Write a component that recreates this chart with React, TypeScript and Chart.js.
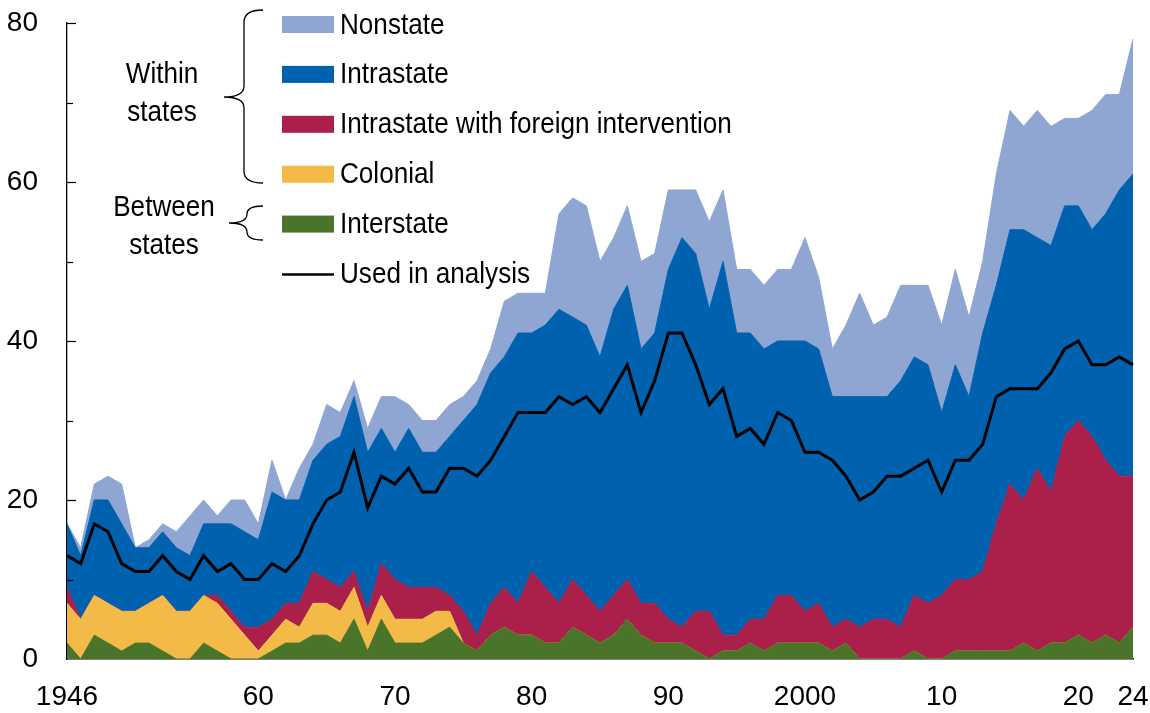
import React, { useEffect, useRef } from 'react';
import { Chart, registerables } from 'chart.js';

Chart.register(...registerables);

// ---------------- DATA ----------------
const years = [
  1946, 1947, 1948, 1949, 1950, 1951, 1952, 1953, 1954, 1955,
  1956, 1957, 1958, 1959, 1960, 1961, 1962, 1963, 1964, 1965,
  1966, 1967, 1968, 1969, 1970, 1971, 1972, 1973, 1974, 1975,
  1976, 1977, 1978, 1979, 1980, 1981, 1982, 1983, 1984, 1985,
  1986, 1987, 1988, 1989, 1990, 1991, 1992, 1993, 1994, 1995,
  1996, 1997, 1998, 1999, 2000, 2001, 2002, 2003, 2004, 2005,
  2006, 2007, 2008, 2009, 2010, 2011, 2012, 2013, 2014, 2015,
  2016, 2017, 2018, 2019, 2020, 2021, 2022, 2023, 2024,
];

const interstate = [
  2, 0, 3, 2, 1, 2, 2, 1, 0, 0,
  2, 1, 0, 0, 0, 1, 2, 2, 3, 3,
  2, 5, 1, 5, 2, 2, 2, 3, 4, 2,
  1, 3, 4, 3, 3, 2, 2, 4, 3, 2,
  3, 5, 3, 2, 2, 2, 1, 0, 1, 1,
  2, 1, 2, 2, 2, 2, 1, 2, 0, 0,
  0, 0, 1, 0, 0, 1, 1, 1, 1, 1,
  2, 1, 2, 2, 3, 2, 3, 2, 4,
];

const colonial = [
  5, 5, 5, 5, 5, 4, 5, 7, 6, 6,
  6, 6, 5, 3, 1, 2, 3, 2, 4, 4,
  4, 4, 3, 3, 3, 3, 3, 3, 2, 0,
  0, 0, 0, 0, 0, 0, 0, 0, 0, 0,
  0, 0, 0, 0, 0, 0, 0, 0, 0, 0,
  0, 0, 0, 0, 0, 0, 0, 0, 0, 0,
  0, 0, 0, 0, 0, 0, 0, 0, 0, 0,
  0, 0, 0, 0, 0, 0, 0, 0, 0,
];

const foreignIntervention = [
  2, 0, 0, 0, 0, 0, 0, 0, 0, 0,
  0, 1, 1, 1, 3, 2, 2, 3, 4, 3,
  3, 2, 2, 4, 5, 4, 4, 3, 2, 4,
  2, 4, 5, 4, 8, 7, 5, 6, 5, 4,
  5, 5, 4, 5, 3, 2, 5, 6, 2, 2,
  3, 4, 6, 6, 4, 5, 3, 3, 4, 5,
  5, 4, 7, 7, 8, 9, 9, 10, 16, 21,
  18, 23, 19, 26, 27, 26, 22, 21, 19,
];

const intrastate = [
  8, 8, 12, 13, 11, 8, 7, 8, 8, 7,
  9, 9, 11, 12, 11, 16, 13, 13, 14, 17,
  19, 22, 20, 17, 16, 20, 17, 17, 20, 24,
  29, 29, 29, 34, 30, 33, 37, 33, 34, 32,
  36, 37, 32, 34, 44, 49, 45, 38, 47, 38,
  36, 34, 32, 32, 34, 32, 29, 28, 29, 28,
  28, 31, 30, 30, 23, 27, 23, 30, 30, 32,
  34, 29, 31, 29, 27, 26, 31, 36, 38,
];

const nonstate = [
  0, 1, 2, 3, 5, 0, 1, 1, 2, 5,
  3, 1, 3, 4, 2, 4, 0, 4, 2, 5,
  3, 2, 3, 4, 7, 3, 4, 4, 4, 3,
  3, 3, 7, 5, 5, 4, 12, 15, 15, 12,
  9, 10, 11, 10, 10, 6, 8, 11, 9, 8,
  8, 8, 9, 9, 13, 9, 6, 9, 13, 9,
  10, 12, 9, 10, 11, 12, 10, 9, 14, 15,
  13, 16, 15, 11, 11, 15, 15, 12, 17,
];

const usedInAnalysis = [
  13, 12, 17, 16, 12, 11, 11, 13, 11, 10,
  13, 11, 12, 10, 10, 12, 11, 13, 17, 20,
  21, 26, 19, 23, 22, 24, 21, 21, 24, 24,
  23, 25, 28, 31, 31, 31, 33, 32, 33, 31,
  34, 37, 31, 35, 41, 41, 37, 32, 34, 28,
  29, 27, 31, 30, 26, 26, 25, 23, 20, 21,
  23, 23, 24, 25, 21, 25, 25, 27, 33, 34,
  34, 34, 36, 39, 40, 37, 37, 38, 37,
];

const xTickYears = [1946, 1960, 1970, 1980, 1990, 2000, 2010, 2020, 2024];
const xTickLabels = ['1946', '60', '70', '80', '90', '2000', '10', '20', '24'];
const yLabelledTicks = [0, 20, 40, 60, 80];

const legendLabels = [
  'Nonstate',
  'Intrastate',
  'Intrastate with foreign intervention',
  'Colonial',
  'Interstate',
  'Used in analysis',
];
const groupWithin = ['Within', 'states'];
const groupBetween = ['Between', 'states'];

// ---------------- STYLE ----------------
const FONT = "'Liberation Sans', Arial, sans-serif";
const NARROW = 0.87; // horizontal squeeze to mimic a narrow face
const C_NONSTATE = '#8FA6D3';
const C_INTRA = '#0061AF';
const C_FOREIGN = '#AB1F4B';
const C_COLONIAL = '#F4BA48';
const C_INTER = '#4A7429';
const legendColors = [C_NONSTATE, C_INTRA, C_FOREIGN, C_COLONIAL, C_INTER, '#000000'];

function narrowText(ctx: CanvasRenderingContext2D, text: string, x: number, y: number, align: 'left' | 'center') {
  ctx.save();
  ctx.translate(x, y);
  ctx.scale(NARROW, 1);
  ctx.textAlign = align;
  ctx.textBaseline = 'alphabetic';
  ctx.fillText(text, 0, 0);
  ctx.restore();
}

const overlayPlugin = {
  id: 'overlay',
  afterDraw(chart: any) {
    const { ctx, chartArea, scales } = chart;
    const y = scales.y;
    ctx.save();
    // inward y ticks
    ctx.strokeStyle = '#000';
    ctx.lineWidth = 1.2;
    for (const t of y.ticks) {
      const v = t.value;
      if (v === 0) continue;
      const len = yLabelledTicks.includes(v) ? 9 : 6;
      const py = Math.round(y.getPixelForValue(v)) + 0.5;
      ctx.beginPath();
      ctx.moveTo(chartArea.left, py);
      ctx.lineTo(chartArea.left + len, py);
      ctx.stroke();
    }

    // legend
    const boxX = 282;
    const boxW = 52;
    const boxH = 17;
    const firstTop = 16;
    const step = 49.9;
    ctx.font = `30px ${FONT}`;
    legendLabels.forEach((lab, i) => {
      const top = firstTop + i * step;
      if (i === legendLabels.length - 1) {
        ctx.strokeStyle = '#000';
        ctx.lineWidth = 2.5;
        ctx.beginPath();
        ctx.moveTo(boxX, top + boxH / 2 + 0.5);
        ctx.lineTo(boxX + boxW, top + boxH / 2 + 0.5);
        ctx.stroke();
      } else {
        ctx.fillStyle = legendColors[i];
        ctx.fillRect(boxX, top, boxW, boxH);
      }
      ctx.fillStyle = '#000';
      narrowText(ctx, lab, 340, top + boxH + 0.5, 'left');
    });

    // braces
    ctx.strokeStyle = '#000';
    ctx.lineWidth = 1.3;
    ctx.beginPath();
    ctx.moveTo(263, 10);
    ctx.quadraticCurveTo(244, 10, 244, 22);
    ctx.lineTo(244, 86);
    ctx.quadraticCurveTo(244, 97, 224, 97);
    ctx.quadraticCurveTo(244, 97, 244, 108);
    ctx.lineTo(244, 171);
    ctx.quadraticCurveTo(244, 183, 263, 183);
    ctx.stroke();

    ctx.beginPath();
    ctx.moveTo(263, 206);
    ctx.quadraticCurveTo(247, 206, 247, 214);
    ctx.quadraticCurveTo(247, 223, 229, 223);
    ctx.quadraticCurveTo(247, 223, 247, 232);
    ctx.quadraticCurveTo(247, 240, 263, 240);
    ctx.stroke();

    ctx.fillStyle = '#000';
    narrowText(ctx, groupWithin[0], 162, 83, 'center');
    narrowText(ctx, groupWithin[1], 162, 121, 'center');
    narrowText(ctx, groupBetween[0], 164, 216, 'center');
    narrowText(ctx, groupBetween[1], 164, 254, 'center');
    ctx.restore();
  },
};

function area(label: string, data: number[], color: string, fill: any) {
  return {
    type: 'line' as const,
    label,
    data,
    backgroundColor: color,
    borderColor: color,
    borderWidth: 1,
    pointRadius: 0,
    pointHoverRadius: 0,
    tension: 0,
    fill,
    stack: 'areas',
  };
}

export default function App() {
  const ref = useRef<HTMLCanvasElement>(null);

  useEffect(() => {
    const canvas = ref.current;
    if (!canvas) return;
    const chart = new Chart(canvas, {
      type: 'line',
      data: {
        labels: years.map(String),
        datasets: [
          {
            label: 'Used in analysis',
            data: usedInAnalysis,
            borderColor: '#000000',
            backgroundColor: '#000000',
            borderWidth: 3,
            pointRadius: 0,
            pointHoverRadius: 0,
            tension: 0,
            fill: false,
            stack: 'used',
          },
          area('Interstate', interstate, C_INTER, 'origin'),
          area('Colonial', colonial, C_COLONIAL, '-1'),
          area('Intrastate with foreign intervention', foreignIntervention, C_FOREIGN, '-1'),
          area('Intrastate', intrastate, C_INTRA, '-1'),
          area('Nonstate', nonstate, C_NONSTATE, '-1'),
        ] as any,
      },
      options: {
        animation: false,
        responsive: false,
        devicePixelRatio: 1,
        layout: { padding: { left: 0, top: 23, right: 0, bottom: 0 } },
        plugins: {
          legend: { display: false },
          tooltip: { enabled: false },
        },
        scales: {
          x: {
            type: 'category',
            offset: false,
            grid: { display: false, drawTicks: false },
            border: { display: true, color: '#000', width: 1.5 },
            ticks: {
              autoSkip: false,
              maxRotation: 0,
              minRotation: 0,
              padding: 21,
              color: '#000',
              font: { family: FONT, size: 28 },
              callback: (_v: any, i: number) => {
                const k = xTickYears.indexOf(years[i]);
                return k >= 0 ? xTickLabels[k] : '';
              },
            },
            afterFit: (s: any) => {
              s.height = 54;
              s.paddingLeft = 0;
              s.paddingRight = 17;
            },
          },
          y: {
            stacked: true,
            min: 0,
            max: 80,
            grid: { display: false, drawTicks: false },
            border: { display: true, color: '#000', width: 1.3 },
            ticks: {
              stepSize: 10,
              padding: 29,
              color: '#000',
              font: { family: FONT, size: 28 },
              callback: (v: any) => (yLabelledTicks.includes(Number(v)) ? String(v) : ''),
            },
            afterFit: (s: any) => {
              s.width = 67;
              s.paddingTop = 0;
              s.paddingBottom = 0;
            },
          },
        },
      },
      plugins: [overlayPlugin],
    } as any);
    return () => chart.destroy();
  }, []);

  return (
    <div style={{ position: 'absolute', left: 0, top: 0, width: 1150, height: 713, background: '#fff' }}>
      <canvas ref={ref} width={1150} height={713} style={{ display: 'block', width: 1150, height: 713 }} />
    </div>
  );
}
